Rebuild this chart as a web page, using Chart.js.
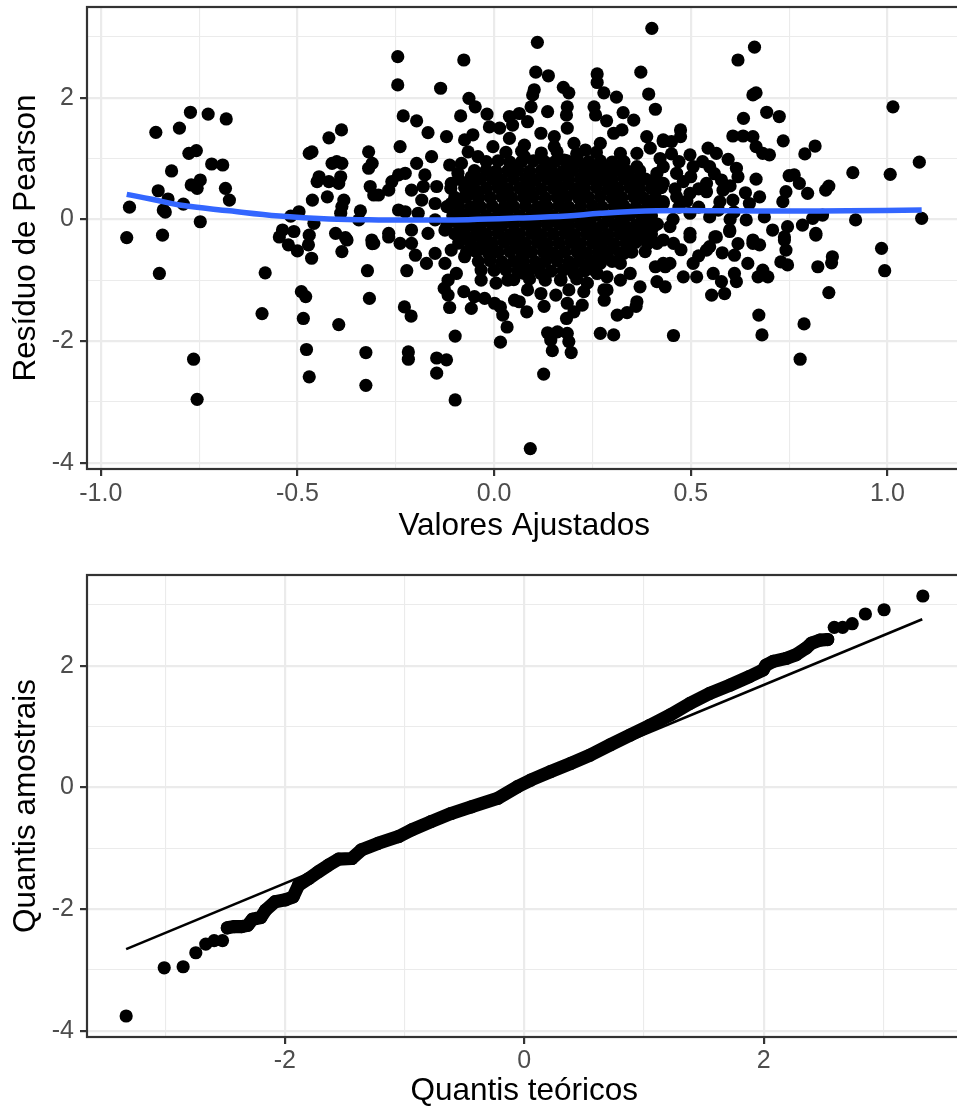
<!DOCTYPE html>
<html>
<head>
<meta charset="utf-8">
<script src="https://cdn.jsdelivr.net/npm/chart.js@4.4.1/dist/chart.umd.min.js"></script>
<style>
  html, body { margin: 0; padding: 0; background: #fff; overflow: hidden; }
  #wrap { position: relative; width: 957px; height: 1110px; overflow: hidden; }
  canvas { position: absolute; left: 0; }
  #residChart { top: 0; }
  #qqChart { top: 555px; }
</style>
</head>
<body>
<div id="wrap">
  <canvas id="residChart" width="968" height="555"></canvas>
  <canvas id="qqChart" width="968" height="555"></canvas>
</div>
<script>
Chart.defaults.font.family = '"Liberation Sans", Arial, sans-serif';
Chart.defaults.color = '#4D4D4D';

// ---- residuals vs fitted: [fitted, pearson residual] ----
const residuals = [
  // left group
  [-0.934,-0.30],[-0.927,0.20],[-0.86,1.43],[-0.80,1.50],[-0.772,1.76],[-0.727,1.73],[-0.681,1.65],
  [-0.776,1.085],[-0.757,1.13],[-0.82,0.795],[-0.718,0.91],[-0.69,0.893],[-0.77,0.565],[-0.747,0.646],
  [-0.755,0.51],[-0.683,0.51],[-0.673,0.317],[-0.854,0.47],[-0.829,0.334],[-0.841,0.153],[-0.836,0.12],
  [-0.79,0.25],[-0.747,-0.04],[-0.843,-0.26],[-0.851,-0.89],[-0.764,-2.30],[-0.755,-2.96],
  // -0.6 .. -0.3
  [-0.47,1.085],[-0.463,1.11],[-0.42,1.34],[-0.388,1.47],[-0.445,0.70],[-0.45,0.62],[-0.412,0.92],
  [-0.387,0.92],[-0.40,0.95],[-0.39,0.70],[-0.42,0.62],[-0.395,0.59],[-0.462,0.317],[-0.424,0.37],
  [-0.382,0.317],[-0.387,0.21],[-0.39,0.10],[-0.34,0.14],[-0.344,-0.01],[-0.319,1.11],[-0.31,0.92],
  [-0.319,0.84],[-0.315,0.54],[-0.306,0.40],[-0.496,0.125],[-0.517,0.054],[-0.538,-0.176],[-0.509,-0.20],
  [-0.47,-0.26],[-0.458,-0.066],[-0.403,-0.23],[-0.378,-0.30],[-0.311,-0.34],[-0.546,-0.29],[-0.523,-0.42],
  [-0.50,-0.52],[-0.472,-0.42],[-0.464,-0.64],[-0.374,-0.34],[-0.387,-0.53],[-0.31,-0.40],[-0.582,-0.88],
  [-0.59,-1.55],[-0.49,-1.19],[-0.479,-1.27],[-0.485,-1.63],[-0.395,-1.73],[-0.477,-2.14],[-0.47,-2.59],
  [-0.322,-0.845],[-0.317,-1.30],[-0.326,-2.19],[-0.326,-2.73],
  // -0.3 .. 0
  [-0.306,-0.395],[-0.222,-0.845],[-0.228,-1.44],[-0.211,-1.59],[-0.218,-2.18],[-0.218,-2.30],[-0.146,-2.28],
  [-0.121,-2.31],[-0.146,-2.53],[-0.099,-2.97],[-0.099,-1.92],[-0.245,2.675],[-0.245,2.21],[-0.077,2.62],
  [-0.136,2.155],[-0.064,1.99],[-0.048,1.85],[-0.231,1.70],[-0.197,1.62],[-0.168,1.425],[-0.121,1.36],
  [-0.085,1.70],[-0.239,1.195],[-0.197,0.92],[-0.159,1.03],[-0.113,0.893],[-0.176,0.73],[-0.26,0.62],
  [-0.243,0.73],[-0.226,0.757],[-0.294,0.40],[-0.268,0.48],[-0.21,0.48],[-0.243,0.153],[-0.226,0.125],
  [-0.18,0.54],[-0.146,0.54],[-0.184,0.317],[-0.15,0.26],[-0.109,0.59],[-0.083,0.92],[-0.066,1.11],
  [-0.041,1.03],[-0.092,0.757],[-0.058,0.70],[-0.041,0.427],[-0.075,0.37],[-0.109,0.26],[-0.054,1.39],
  [-0.075,1.305],[-0.012,1.52],[-0.268,-0.23],[-0.193,0.10],[-0.15,-0.01],[-0.10,0.04],[-0.058,0.04],
  [-0.21,-0.176],[-0.168,-0.23],[-0.125,-0.176],[-0.083,-0.23],[-0.041,-0.176],[-0.268,-0.29],[-0.239,-0.395],
  [-0.20,-0.59],[-0.172,-0.725],[-0.125,-0.725],[-0.15,-0.56],[-0.21,-0.395],[-0.117,-1.0],[-0.096,-0.89],
  [-0.075,-0.615],[-0.041,-0.505],[-0.058,-1.465],[-0.024,-1.30],[-0.05,-1.27],[-0.113,-1.45],[-0.117,-1.245],
  [-0.127,-1.135],[-0.077,-1.19],[-0.033,-1.0],[0.005,-1.05],[0.035,-1.0],[0.001,-1.38],[-0.109,-0.505],
  [-0.066,-0.34],[-0.033,-0.834],
  // 0 .. 0.45, around the dense centre
  [0.016,-2.02],[0.092,-3.77],[0.126,-2.545],[0.148,-2.16],[0.196,-2.19],[0.136,-1.865],[0.161,-1.85],
  [0.186,-1.875],[0.19,-2.01],[0.144,-1.985],[0.27,-1.875],[0.304,-1.90],[0.184,-1.63],[0.203,-1.52],
  [0.224,-1.41],[0.313,-1.575],[0.338,-1.535],[0.361,-1.43],[0.363,-1.355],[0.28,-1.33],[0.287,-1.16],
  [0.033,-1.77],[0.022,-1.575],[0.016,-1.44],[0.083,-1.52],[0.064,-1.355],[0.127,-1.43],[0.157,-1.245],
  [0.19,-1.16],[0.228,-1.19],[0.279,-1.16],[0.371,-1.11],[0.414,-1.025],[0.41,-0.78],[0.435,-0.78],
  [0.321,-0.725],[0.346,-0.89],[0.384,-0.53],[0.33,-0.56],[0.06,-0.725],[0.077,-0.89],[0.119,-1.22],
  [0.119,-0.89],[0.169,-1.0],[0.203,-0.89],[0.262,-0.89],[0.237,-0.78],[0.287,-0.945],[0.085,-1.16],
  [0.052,-1.33],[0.186,-1.38],[0.237,-1.05],[0.321,-1.0],[0.355,-0.34],[0.414,-0.395],[0.287,-0.56],
  [0.27,-0.725],
  [0.11,2.91],[0.106,2.42],[0.138,2.36],[0.401,3.14],[0.373,2.42],[0.393,2.06],[0.41,1.81],[0.262,2.39],
  [0.262,2.25],[0.279,2.08],[0.311,2.01],[0.328,1.755],[0.176,2.17],[0.19,2.08],[0.102,2.13],[0.098,2.045],
  [-0.018,1.73],[0.039,1.69],[0.064,1.74],[0.094,1.85],[0.136,1.77],[0.186,1.85],[0.184,1.715],[0.254,1.85],
  [0.258,1.715],[0.286,1.62],[0.355,1.63],[0.014,1.50],[0.047,1.55],[0.085,1.605],[-0.003,1.195],[0.039,1.33],
  [0.077,1.22],[0.119,1.415],[0.153,1.36],[0.186,1.50],[0.203,1.25],[0.232,1.14],[0.27,1.25],[0.304,1.415],
  [0.325,1.47],[0.388,1.36],[0.43,1.28],[0.321,1.085],[0.363,1.085],[0.397,1.17],[0.422,1.0],[0.077,1.03],
  [0.119,1.03],[0.153,1.195],[0.178,0.975],[0.211,1.03],[0.245,0.865],[0.27,0.893],[0.338,0.757],
  [0.363,0.865],[0.414,0.757],[0.426,0.54],[0.43,0.26],[0.405,0.317],[0.397,0.10],[0.405,-0.12],[0.43,-0.34],
  // right of 0.45
  [0.662,2.83],[0.62,2.62],[0.666,2.08],[0.658,2.045],[1.014,1.85],[0.634,1.66],[0.693,1.76],[0.725,1.69],
  [0.607,1.37],[0.633,1.37],[0.658,1.36],[0.666,1.195],[0.683,1.085],[0.70,1.06],[0.735,1.29],[0.79,1.075],
  [0.816,1.205],[1.081,0.94],[0.912,0.767],[1.007,0.74],[0.919,-0.01],[1.087,0.016],[0.474,1.47],[0.474,1.36],
  [0.43,1.305],[0.451,1.28],[0.451,1.075],[0.498,1.06],[0.544,1.17],[0.565,1.085],[0.595,0.987],[0.616,0.84],
  [0.548,0.865],[0.506,0.865],[0.464,0.757],[0.43,0.865],[0.43,0.59],[0.481,0.62],[0.54,0.59],[0.578,0.646],
  [0.582,0.48],[0.54,0.454],[0.498,0.427],[0.464,0.37],[0.43,0.29],[0.574,0.29],[0.607,0.317],[0.639,0.437],
  [0.666,0.66],[0.675,0.37],[0.649,0.26],[0.75,0.717],[0.763,0.73],[0.776,0.59],[0.797,0.427],[0.742,0.454],
  [0.734,0.29],[0.843,0.48],[0.851,0.547],[0.498,0.10],[0.548,0.04],[0.599,-0.176],[0.641,-0.01],[0.687,0.04],
  [0.708,-0.176],[0.746,-0.12],[0.784,-0.094],[0.818,-0.23],[0.81,0.016],[0.835,0.07],[0.447,-0.12],
  [0.498,-0.23],[0.565,-0.29],[0.658,-0.34],[0.738,-0.29],[0.456,-0.395],[0.498,-0.29],[0.548,-0.45],
  [0.561,-0.29],[0.599,-0.20],[0.658,-0.395],[0.675,-0.42],[0.738,-0.34],[0.742,-0.505],[0.746,-0.75],
  [0.729,-0.70],[0.818,-0.26],[0.823,-0.78],[0.86,-0.615],[0.858,-0.715],[0.851,-1.205],[0.985,-0.477],
  [0.993,-0.845],[0.788,-1.72],[0.778,-2.30],[0.673,-1.575],[0.681,-1.90],[0.456,-1.91],[0.43,-0.725],
  [0.435,-1.11],[0.481,-0.945],[0.447,-0.725],[0.515,-0.945],[0.506,-0.725],[0.54,-0.505],[0.553,-1.245],
  [0.586,-1.22],[0.578,-1.025],[0.557,-0.89],[0.611,-0.89],[0.616,-1.025],[0.611,-0.59],[0.645,-0.725],
  [0.671,-0.945],[0.696,-0.945],[0.683,-0.834],
  [0.46,0.50],[0.47,0.20],[0.49,0.30],[0.50,0.70],[0.52,0.50],[0.52,0.20],[0.53,0.95],[0.56,0.75],
  [0.57,0.15],[0.60,0.55],[0.61,0.12],[0.62,0.70],[0.47,0.95],[0.455,0.00],[0.475,-0.50],[0.52,-0.60],
  [0.58,-0.55],[0.62,-0.40],[0.60,0.00]
];

// dense, overplotted centre of the cloud
const residualsCore = [
  [0.03,1.10],[0.07,1.12],[0.12,1.09],[0.16,1.11],[0.21,1.08],[0.26,1.10],
  [-0.02,0.95],[0.01,0.96],[0.04,0.94],[0.07,0.95],[0.10,0.96],[0.13,0.94],[0.155,0.95],[0.185,0.96],[0.21,0.94],
  [0.24,0.95],[0.27,0.96],[0.30,0.94],[0.33,0.95],
  [-0.05,0.80],[-0.02,0.81],[0.005,0.79],[0.035,0.80],[0.06,0.81],[0.09,0.79],[0.12,0.80],[0.145,0.81],
  [0.175,0.79],[0.20,0.80],[0.23,0.81],[0.26,0.79],[0.285,0.80],[0.315,0.81],[0.34,0.79],[0.37,0.80],
  [-0.09,0.66],[-0.06,0.65],[-0.035,0.66],[-0.005,0.67],[0.02,0.65],[0.05,0.66],[0.08,0.67],[0.105,0.65],
  [0.135,0.66],[0.16,0.67],[0.19,0.65],[0.22,0.66],[0.245,0.67],[0.275,0.65],[0.30,0.66],[0.33,0.67],
  [0.36,0.65],[0.385,0.66],[0.41,0.67],
  [-0.11,0.51],[-0.075,0.52],[-0.05,0.50],[-0.02,0.51],[0.01,0.52],[0.035,0.50],[0.065,0.51],[0.09,0.52],
  [0.12,0.50],[0.15,0.51],[0.175,0.52],[0.205,0.50],[0.23,0.51],[0.26,0.52],[0.29,0.50],[0.315,0.51],
  [0.345,0.52],[0.37,0.50],[0.40,0.51],[0.425,0.52],
  [-0.10,0.36],[-0.07,0.37],[-0.04,0.35],[-0.01,0.36],[0.02,0.37],[0.045,0.35],[0.075,0.36],[0.10,0.37],
  [0.13,0.35],[0.16,0.36],[0.185,0.37],[0.215,0.35],[0.24,0.36],[0.27,0.37],[0.30,0.35],[0.325,0.36],
  [0.355,0.37],[0.38,0.35],[0.41,0.36],
  [-0.12,0.21],[-0.09,0.22],[-0.06,0.20],[-0.035,0.21],[-0.005,0.22],[0.025,0.20],[0.05,0.21],[0.08,0.22],
  [0.11,0.20],[0.135,0.21],[0.165,0.22],[0.19,0.20],[0.22,0.21],[0.25,0.22],[0.275,0.20],[0.305,0.21],
  [0.33,0.22],[0.36,0.20],[0.39,0.21],[0.42,0.22],
  [-0.105,0.06],[-0.075,0.07],[-0.05,0.05],[-0.02,0.06],[0.01,0.07],[0.035,0.05],[0.065,0.06],[0.095,0.07],
  [0.12,0.05],[0.15,0.06],[0.18,0.07],[0.205,0.05],[0.235,0.06],[0.26,0.07],[0.29,0.05],[0.32,0.06],
  [0.345,0.07],[0.375,0.05],[0.40,0.06],
  [-0.12,-0.09],[-0.09,-0.08],[-0.065,-0.10],[-0.035,-0.09],[-0.005,-0.08],[0.02,-0.10],[0.05,-0.09],
  [0.08,-0.08],[0.105,-0.10],[0.135,-0.09],[0.165,-0.08],[0.19,-0.10],[0.22,-0.09],[0.245,-0.08],
  [0.275,-0.10],[0.305,-0.09],[0.33,-0.08],[0.36,-0.10],[0.385,-0.09],[0.415,-0.08],
  [-0.10,-0.24],[-0.075,-0.23],[-0.045,-0.25],[-0.02,-0.24],[0.01,-0.23],[0.04,-0.25],[0.065,-0.24],
  [0.095,-0.23],[0.12,-0.25],[0.15,-0.24],[0.18,-0.23],[0.205,-0.25],[0.235,-0.24],[0.26,-0.23],
  [0.29,-0.25],[0.32,-0.24],[0.345,-0.23],[0.375,-0.25],[0.40,-0.24],
  [-0.09,-0.39],[-0.06,-0.38],[-0.03,-0.40],[-0.005,-0.39],[0.025,-0.38],[0.055,-0.40],[0.08,-0.39],
  [0.11,-0.38],[0.135,-0.40],[0.165,-0.39],[0.195,-0.38],[0.22,-0.40],[0.25,-0.39],[0.275,-0.38],
  [0.305,-0.40],[0.335,-0.39],[0.36,-0.38],[0.39,-0.40],
  [-0.07,-0.54],[-0.045,-0.53],[-0.015,-0.55],[0.01,-0.54],[0.04,-0.53],[0.07,-0.55],[0.095,-0.54],
  [0.125,-0.53],[0.15,-0.55],[0.18,-0.54],[0.21,-0.53],[0.235,-0.55],[0.265,-0.54],[0.29,-0.53],
  [0.32,-0.55],[0.35,-0.54],
  [-0.04,-0.69],[-0.01,-0.68],[0.02,-0.70],[0.05,-0.69],[0.075,-0.68],[0.105,-0.70],[0.13,-0.69],
  [0.16,-0.68],[0.19,-0.70],[0.215,-0.69],[0.245,-0.68],[0.27,-0.70],[0.30,-0.69],
  [0.00,-0.84],[0.03,-0.83],[0.06,-0.85],[0.09,-0.84],[0.115,-0.83],[0.145,-0.85],[0.175,-0.84],
  [0.20,-0.83],[0.23,-0.85],[0.255,-0.84],
  [0.05,-0.99],[0.09,-0.98],[0.13,-1.00],[0.17,-0.99],[0.21,-0.98]
];

// blue smoother
const loessCurve = [
  [-0.934,0.41],[-0.87,0.33],[-0.80,0.235],[-0.673,0.14],[-0.546,0.054],[-0.42,0.005],[-0.294,-0.01],
  [-0.17,-0.01],[-0.066,-0.005],[0.06,0.02],[0.186,0.054],[0.27,0.10],[0.414,0.14],[0.60,0.14],
  [0.75,0.136],[0.90,0.14],[1.087,0.153]
];

// ---- normal QQ: [theoretical, sample] ----
const qqLowerTail = [
  [-3.325,-3.76],[-3.007,-2.967],[-2.849,-2.95],[-2.743,-2.72],[-2.66,-2.577],[-2.59,-2.52],[-2.52,-2.52]
];
const qqBody = [
  [-2.48,-2.31],[-2.42,-2.29],[-2.36,-2.29],[-2.31,-2.27],[-2.27,-2.17],[-2.20,-2.14],[-2.16,-2.02],
  [-2.08,-1.88],[-1.995,-1.85],[-1.93,-1.80],[-1.885,-1.61],[-1.80,-1.50],[-1.72,-1.39],[-1.635,-1.28],
  [-1.55,-1.18],[-1.44,-1.17],[-1.36,-1.03],[-1.22,-0.92],[-1.05,-0.81],[-0.94,-0.70],[-0.78,-0.565],
  [-0.61,-0.43],[-0.44,-0.32],[-0.22,-0.18],[-0.056,0.01],[0.055,0.12],[0.22,0.257],[0.39,0.395],
  [0.55,0.53],[0.72,0.70],[0.886,0.86],[1.05,1.02],[1.22,1.19],[1.385,1.38],[1.55,1.545],[1.72,1.68],
  [1.88,1.82],[1.995,1.93],[2.02,2.01],[2.08,2.07],[2.19,2.12],[2.27,2.18],[2.355,2.29],[2.40,2.37],
  [2.47,2.42],[2.535,2.43]
];
const qqUpperTail = [
  [2.59,2.63],[2.66,2.63],[2.74,2.69],[2.85,2.85],[3.006,2.92],[3.33,3.146]
];
const qqRefLine = [[-3.325,-2.66],[3.325,2.763]];

// ---- axes ----
const residXRange = [-1.035, 1.188];
const residXMajor = [-1, -0.5, 0, 0.5, 1];
const residXMinor = [-0.75, -0.25, 0.25, 0.75];
const residXLabels = ['-1.0', '-0.5', '0.0', '0.5', '1.0'];
const qqXRange = [-3.652, 3.652];
const qqXMajor = [-2, 0, 2];
const qqXMinor = [-3, -1, 1, 3];
const qqXLabels = ['-2', '0', '2'];
const yRange = [-4.105, 3.491];
const yMajor = [-4, -2, 0, 2];
const yMinor = [-3, -1, 1, 3];
const yLabels = ['-4', '-2', '0', '2'];

const DOT = 6.6;
const toXY = arr => arr.map(p => ({ x: p[0], y: p[1] }));

function makeAxis(o) {
  const all = o.major.concat(o.minor).sort((a, b) => a - b);
  const isMajor = c => c.tick && o.major.includes(c.tick.value);
  return {
    type: 'linear',
    position: o.horizontal ? 'bottom' : 'left',
    min: o.range[0],
    max: o.range[1],
    afterBuildTicks: s => { s.ticks = all.map(v => ({ value: v })); },
    afterFit: s => {
      if (o.horizontal) { s.height = o.size; s.paddingLeft = 0; s.paddingRight = 0; }
      else { s.width = o.size; s.paddingTop = 0; s.paddingBottom = 0; }
    },
    grid: {
      color: '#EBEBEB',
      lineWidth: c => isMajor(c) ? 2.2 : 1.1,
      drawTicks: true,
      tickLength: 7,
      tickWidth: 2.2,
      tickColor: c => isMajor(c) ? '#333333' : 'rgba(0,0,0,0)'
    },
    border: { display: false },
    ticks: {
      autoSkip: false,
      maxRotation: 0,
      padding: o.tickPad,
      color: '#4D4D4D',
      font: { size: 25, lineHeight: 1.2 },
      callback: v => { const i = o.major.indexOf(v); return i >= 0 ? o.labels[i] : ''; }
    },
    title: {
      display: true,
      text: o.title,
      color: '#000000',
      font: { size: 31.5, lineHeight: 1.2 },
      padding: o.titlePad
    }
  };
}

// ggplot-style panel border
const panelBorder = {
  id: 'panelBorder',
  afterDraw(chart) {
    const { ctx, chartArea: a } = chart;
    ctx.save();
    ctx.strokeStyle = '#333333';
    ctx.lineWidth = 2.2;
    ctx.strokeRect(a.left, a.top, a.right - a.left, a.bottom - a.top);
    ctx.restore();
  }
};

const common = {
  responsive: false,
  animation: false,
  events: [],
  plugins: { legend: { display: false }, tooltip: { enabled: false } }
};

// Residuals vs fitted
new Chart(document.getElementById('residChart'), {
  type: 'scatter',
  data: {
    datasets: [
      {
        data: toXY(loessCurve),
        showLine: true,
        borderColor: '#3366FF',
        borderWidth: 5.5,
        tension: 0.4,
        pointRadius: 0
      },
      {
        data: toXY(residuals.concat(residualsCore)),
        pointRadius: DOT,
        pointBackgroundColor: '#000000',
        pointBorderWidth: 0
      }
    ]
  },
  options: {
    ...common,
    layout: { padding: { top: 7, left: 0, right: 1.5, bottom: 0 } },
    scales: {
      x: makeAxis({ horizontal: true, range: residXRange, major: residXMajor, minor: residXMinor,
        labels: residXLabels, title: 'Valores Ajustados', size: 86, tickPad: 3,
        titlePad: { top: 0, bottom: 10 } }),
      y: makeAxis({ horizontal: false, range: yRange, major: yMajor, minor: yMinor,
        labels: yLabels, title: 'Resíduo de Pearson', size: 87, tickPad: 6,
        titlePad: { top: 7, bottom: 0 } })
    }
  },
  plugins: [panelBorder]
});

// Normal QQ plot
new Chart(document.getElementById('qqChart'), {
  type: 'scatter',
  data: {
    datasets: [
      {
        data: toXY(qqRefLine),
        showLine: true,
        borderColor: '#000000',
        borderWidth: 2.6,
        pointRadius: 0
      },
      {
        data: toXY(qqBody),
        showLine: true,
        borderColor: '#000000',
        borderWidth: DOT * 2,
        borderCapStyle: 'round',
        borderJoinStyle: 'round',
        pointRadius: DOT,
        pointBackgroundColor: '#000000',
        pointBorderWidth: 0
      },
      {
        data: toXY(qqLowerTail.concat(qqUpperTail)),
        pointRadius: DOT,
        pointBackgroundColor: '#000000',
        pointBorderWidth: 0
      }
    ]
  },
  options: {
    ...common,
    layout: { padding: { top: 20, left: 0, right: 1.5, bottom: 0 } },
    scales: {
      x: makeAxis({ horizontal: true, range: qqXRange, major: qqXMajor, minor: qqXMinor,
        labels: qqXLabels, title: 'Quantis teóricos', size: 73, tickPad: 2,
        titlePad: { top: 0, bottom: 0 } }),
      y: makeAxis({ horizontal: false, range: yRange, major: yMajor, minor: yMinor,
        labels: yLabels, title: 'Quantis amostrais', size: 87, tickPad: 6,
        titlePad: { top: 7, bottom: 0 } })
    }
  },
  plugins: [panelBorder]
});
</script>
</body>
</html>
